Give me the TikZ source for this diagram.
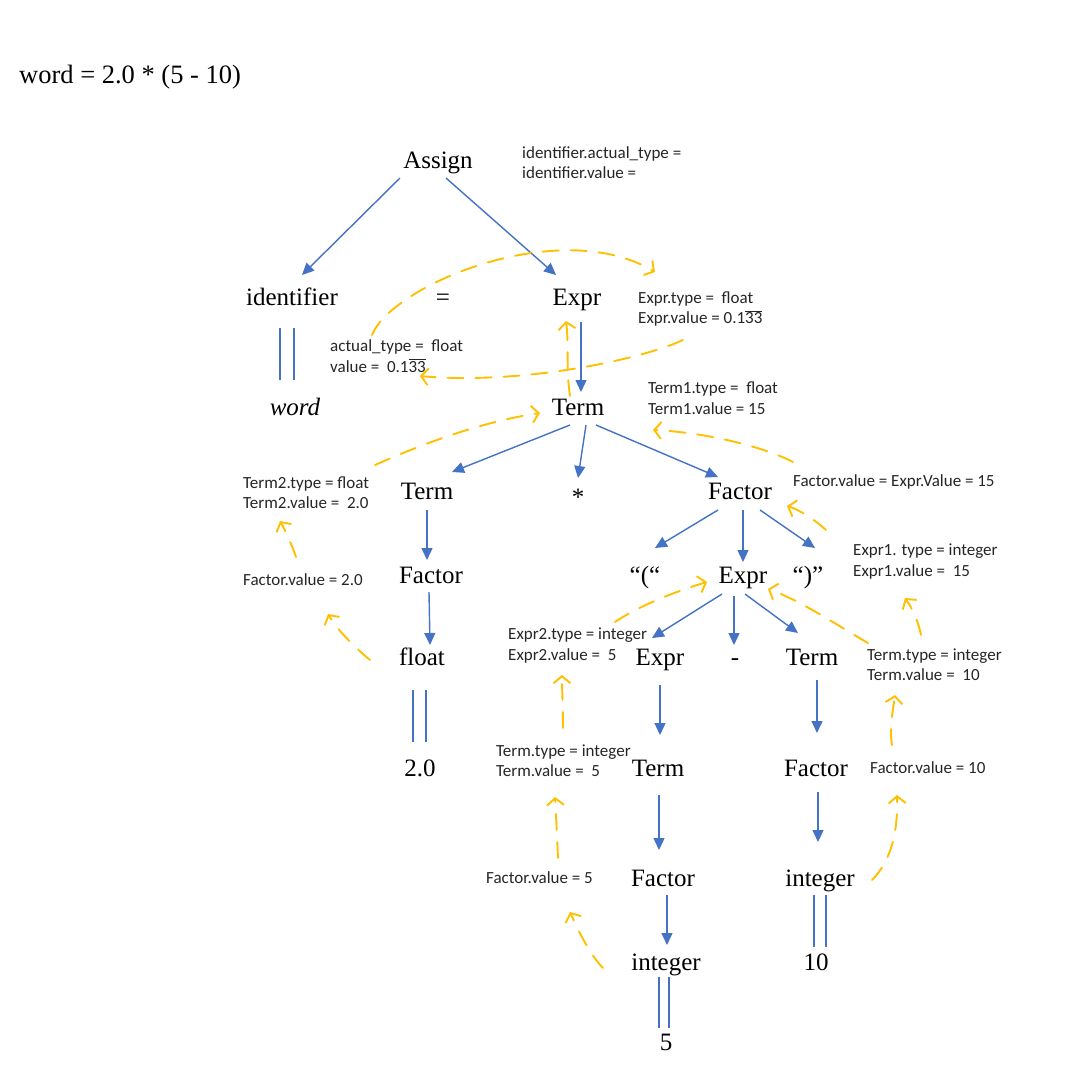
\documentclass[tikz,border=0pt]{standalone}
\usepackage{fontspec}
\usetikzlibrary{arrows.meta,calc}
\setmainfont{Liberation Serif}
\newfontfamily\annfont{Carlito}
\definecolor{treeblue}{HTML}{4472C4}
\definecolor{attrorange}{HTML}{FFC000}
\definecolor{anntext}{HTML}{262626}
\newcommand\ovbar[1]{\setbox0=\hbox{#1}\leavevmode\rlap{\raisebox{\dimexpr\ht0+1.5pt\relax}{\rule{\wd0}{0.6pt}}}\box0}
\begin{document}
\begin{tikzpicture}[x=1pt,y=-1pt,
  tn/.style={inner sep=0pt, text height=17pt, text depth=5.5pt, font=\fontsize{25}{30}\selectfont},
  ann/.style={inner sep=0pt, anchor=west, align=left, text=anntext, font=\annfont\fontsize{17}{20.5}\selectfont},
  edge/.style={draw=treeblue, line width=1.4pt, -{Triangle[length=12pt,width=11pt]}},
  dbl/.style={draw=treeblue, line width=1.4pt},
  attr/.style={draw=attrorange, line width=1.9pt, line cap=round, dash pattern=on 16pt off 12pt,
    -{Straight Barb[length=7pt,width=17pt,line width=1.9pt]}}]
\fill[white] (0,0) rectangle (1080,1080);
\useasboundingbox (0,0) rectangle (1080,1080);

% title
\node[tn, anchor=west, font=\fontsize{26.5}{31}\selectfont] (title) at (19,78) {word = 2.0 * (5 - 10)};

% tree nodes
\node[tn] (assign) at (438,163) {Assign};
\node[tn] (ident) at (292,300) {identifier};
\node[tn] (eq) at (443,300) {=};
\node[tn] (exprT) at (577,300) {Expr};
\node[tn] (word) at (295,410) {\itshape word};
\node[tn] (termT) at (578,410) {Term};
\node[tn] (termL) at (427,494) {Term};
\node[tn] (star) at (578,500) {*};
\node[tn] (factorR) at (740,494) {Factor};
\node[tn] (factorL) at (431,578) {Factor};
\node[tn] (lparen) at (645,578) {“(“};
\node[tn] (exprM) at (743,578) {Expr};
\node[tn] (rparen) at (808,578) {“)”};
\node[tn] (float) at (422,660) {float};
\node[tn] (exprBL) at (660,660) {Expr};
\node[tn] (minus) at (735,660) {-};
\node[tn] (termR) at (812,660) {Term};
\node[tn] (two) at (420,771) {2.0};
\node[tn] (termB) at (658,771) {Term};
\node[tn] (factorRB) at (816,771) {Factor};
\node[tn] (factorB) at (663,881) {Factor};
\node[tn] (intR) at (820,881) {integer};
\node[tn] (intB) at (666,965) {integer};
\node[tn] (ten) at (816,965) {10};
\node[tn] (five) at (666,1045) {5};

% annotations
\node[ann] (a1) at (522,162.5) {identifier.actual\_type =\\identifier.value =};
\node[ann] (a2) at (638,309) {Expr.type =\ \ float\\Expr.value = 0.1\ovbar{33}};
\node[ann] (a3) at (330,356) {actual\_type =\ \ float\\value =\ \ 0.1\ovbar{33}};
\node[ann] (a4) at (648,398) {Term1.type =\ \ float\\Term1.value = 15};
\node[ann] (a5) at (243,492.5) {Term2.type = float\\Term2.value =\ \ 2.0};
\node[ann] (a6) at (793,482) {Factor.value = Expr.Value = 15};
\node[ann] (a7) at (853,561.5) {Expr1. type = integer\\Expr1.value =\ \ 15};
\node[ann] (a8) at (243,580) {Factor.value = 2.0};
\node[ann] (a9) at (508,645.5) {Expr2.type = integer\\Expr2.value =\ \ 5};
\node[ann] (a10) at (867,664.5) {Term.type = integer\\Term.value =\ \ 10};
\node[ann] (a11) at (496,760.5) {Term.type = integer\\Term.value =\ \ 5};
\node[ann] (a12) at (870,768) {Factor.value = 10};
\node[ann] (a13) at (486,878) {Factor.value = 5};

% blue tree edges
\draw[edge] ($(assign)+(-38,15)$) -- ($(ident)+(10,-25)$);
\draw[edge] ($(assign)+(8,15)$) -- ($(exprT)+(-21,-25)$);
\draw[edge] ($(exprT)+(4,22)$) -- ($(termT)+(3,-18)$);
\draw[edge] ($(termT)+(-8,15)$) -- ($(termL)+(25,-22)$);
\draw[edge] ($(termT)+(8,15)$) -- ($(star)+(0,-22)$);
\draw[edge] ($(termT)+(18,15)$) -- ($(factorR)+(-22,-17)$);
\draw[edge] ($(termL)+(0,16)$) -- ($(factorL)+(-4,-18)$);
\draw[edge] ($(factorL)+(-2,14)$) -- ($(float)+(8,-15)$);
\draw[edge] ($(factorR)+(-22,16)$) -- ($(lparen)+(10,-30)$);
\draw[edge] ($(factorR)+(3,16)$) -- ($(exprM)+(0,-16)$);
\draw[edge] ($(factorR)+(20,16)$) -- ($(rparen)+(7,-30)$);
\draw[edge] ($(exprM)+(-21,16)$) -- ($(exprBL)+(-8,-22)$);
\draw[edge] ($(exprM)+(-9,18)$) -- ($(minus)+(-1,-15)$);
\draw[edge] ($(exprM)+(2,16)$) -- ($(termR)+(-14,-27)$);
\draw[edge] ($(exprBL)+(0,25)$) -- ($(termB)+(2,-36)$);
\draw[edge] ($(termR)+(5,20)$) -- ($(factorRB)+(1,-38)$);
\draw[edge] ($(termB)+(1,24)$) -- ($(factorB)+(-4,-31)$);
\draw[edge] ($(factorB)+(4,14)$) -- ($(intB)+(1,-20)$);
\draw[edge] ($(factorRB)+(2,21)$) -- ($(intR)+(-2,-39)$);

% double lines (terminal values)
\draw[dbl] ($(ident)+(-12,28)$) -- ($(word)+(-15,-30)$);
\draw[dbl] ($(ident)+(2,28)$) -- ($(word)+(-1,-30)$);
\draw[dbl] ($(float)+(-9,30)$) -- ($(two)+(-7,-29)$);
\draw[dbl] ($(float)+(4,30)$) -- ($(two)+(6,-29)$);
\draw[dbl] ($(intB)+(-7,12)$) -- ($(five)+(-7,-17)$);
\draw[dbl] ($(intB)+(3,12)$) -- ($(five)+(3,-17)$);
\draw[dbl] ($(intR)+(-6,14)$) -- ($(ten)+(-2,-18)$);
\draw[dbl] ($(intR)+(6,14)$) -- ($(ten)+(10,-18)$);

% orange attribute flow
\coordinate (o1s) at (372,335);  \coordinate (o1e) at (655,272);
\coordinate (o2s) at (683,340);  \coordinate (o2e) at (420,376);
\coordinate (o3s) at (570,396);  \coordinate (o3e) at (566,321);
\coordinate (o4s) at (375,465);  \coordinate (o4e) at (540,413);
\coordinate (o5s) at (793,462);  \coordinate (o5e) at (653,430);
\coordinate (o6s) at (826,530);  \coordinate (o6e) at (787,506);
\coordinate (o7s) at (921,635);  \coordinate (o7e) at (905,598);
\coordinate (o8s) at (868,643);  \coordinate (o8e) at (768,589);
\coordinate (o9s) at (615,622);  \coordinate (o9e) at (707,582);
\coordinate (o10s) at (296,557); \coordinate (o10e) at (280,521);
\coordinate (o11s) at (370,660); \coordinate (o11e) at (328,614);
\coordinate (o12s) at (563,728); \coordinate (o12e) at (562,675);
\coordinate (o13s) at (558,858); \coordinate (o13e) at (555,797);
\coordinate (o14s) at (603,968); \coordinate (o14e) at (570,912);
\coordinate (o15s) at (872,880); \coordinate (o15e) at (897,795);
\coordinate (o16s) at (892,745); \coordinate (o16e) at (895,695);

\draw[attr] (o1s) .. controls (392,285) and (560,215) .. (o1e);
\draw[attr] (o2s) .. controls (640,360) and (520,385) .. (o2e);
\draw[attr] (o3s) .. controls (566,370) and (569,345) .. (o3e);
\draw[attr] (o4s) .. controls (420,445) and (480,422) .. (o4e);
\draw[attr] (o5s) .. controls (760,445) and (700,432) .. (o5e);
\draw[attr] (o6s) .. controls (815,520) and (800,510) .. (o6e);
\draw[attr] (o7s) .. controls (918,620) and (912,608) .. (o7e);
\draw[attr] (o8s) .. controls (845,630) and (800,600) .. (o8e);
\draw[attr] (o9s) .. controls (640,605) and (680,590) .. (o9e);
\draw[attr] (o10s) .. controls (292,545) and (285,530) .. (o10e);
\draw[attr] (o11s) .. controls (352,645) and (336,628) .. (o11e);
\draw[attr] (o12s) .. controls (563,710) and (562,690) .. (o12e);
\draw[attr] (o13s) .. controls (557,835) and (556,815) .. (o13e);
\draw[attr] (o14s) .. controls (590,955) and (578,930) .. (o14e);
\draw[attr] (o15s) .. controls (892,860) and (898,830) .. (o15e);
\draw[attr] (o16s) .. controls (889,728) and (893,710) .. (o16e);
\end{tikzpicture}
\end{document}
